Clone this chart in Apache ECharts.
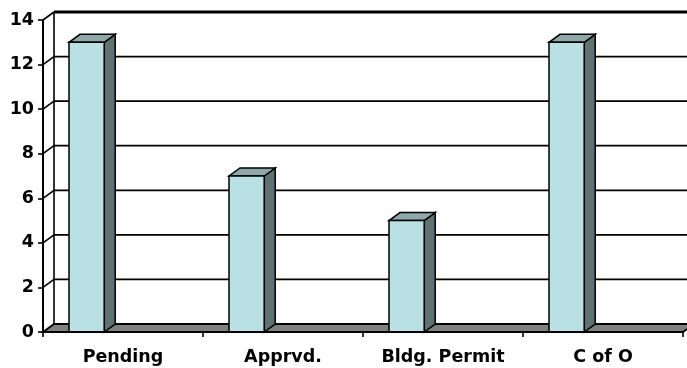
<!DOCTYPE html>
<html>
<head>
<meta charset="utf-8">
<script src="https://cdn.jsdelivr.net/npm/echarts@6/dist/echarts.min.js"></script>
<style>html,body{margin:0;padding:0;background:#fff}#c{width:687px;height:368px}</style>
</head>
<body>
<div id="c"></div>
<script>
var categories = ['Pending', 'Apprvd.', 'Bldg. Permit', 'C of O'];
var values = [13, 7, 5, 13];
var yTicks = [0, 2, 4, 6, 8, 10, 12, 14];

var DX = 11, DY = -8;
var FONT = 'DejaVu Sans';

var chart = echarts.init(document.getElementById('c'), null, {renderer: 'canvas'});

function wallItem(params, api) {
  var cs = params.coordSys;
  var v = api.value(0);
  var p = api.coord([0, v]);
  var y = p[1];
  var x0 = cs.x, x1 = cs.x + cs.width;
  var children = [];
  if (v === 0) {
    var yTop = api.coord([0, yTicks[yTicks.length - 1]])[1];
    children.push({
      type: 'line',
      shape: {x1: x0 + DX, y1: y + DY, x2: x0 + DX, y2: yTop + DY},
      style: {stroke: '#000', lineWidth: 1.6}
    });
    children.push({
      type: 'polygon',
      shape: {points: [[x0, y], [x1, y], [x1 + DX, y + DY], [x0 + DX, y + DY]]},
      style: {fill: '#808080', stroke: '#000', lineWidth: 1.8},
      z2: 5
    });
  } else {
    var top = v === yTicks[yTicks.length - 1];
    children.push({
      type: 'line',
      shape: {x1: x0 + DX, y1: y + DY, x2: x1 + DX + 20, y2: y + DY},
      style: {stroke: '#000', lineWidth: top ? 2.8 : 1.7}
    });
    children.push({
      type: 'line',
      shape: {x1: x0, y1: y, x2: x0 + DX, y2: y + DY},
      style: {stroke: '#000', lineWidth: 1.6}
    });
  }
  return {type: 'group', children: children};
}

function barItem(params, api) {
  var cat = api.value(0), val = api.value(1);
  var pb = api.coord([cat, 0]);
  var pt = api.coord([cat, val]);
  var band = api.size([1, 0])[0];
  var xl = pb[0] - band * 0.3375;
  var xr = xl + band * 0.22;
  var yb = pb[1], yt = pt[1];
  var st = {stroke: '#000', lineWidth: 1.5};
  return {
    type: 'group',
    children: [
      {type: 'polygon', shape: {points: [[xr, yb], [xr + DX, yb + DY], [xr + DX, yt + DY], [xr, yt]]},
        style: Object.assign({fill: '#5E7274'}, st)},
      {type: 'polygon', shape: {points: [[xl, yt], [xr, yt], [xr + DX, yt + DY], [xl + DX, yt + DY]]},
        style: Object.assign({fill: '#8FA9AB'}, st)},
      {type: 'polygon', shape: {points: [[xl, yb], [xr, yb], [xr, yt], [xl, yt]]},
        style: Object.assign({fill: '#B9E0E3'}, st)}
    ]
  };
}

chart.setOption({
  animation: false,
  backgroundColor: '#fff',
  grid: {left: 43, right: 4, top: 20, bottom: 36, containLabel: false},
  xAxis: {
    type: 'category',
    data: categories,
    boundaryGap: true,
    axisLine: {show: true, lineStyle: {color: '#000', width: 2}},
    axisTick: {show: true, length: 5, lineStyle: {color: '#000', width: 1.6}},
    axisLabel: {color: '#000', fontFamily: FONT, fontWeight: 'bold', fontSize: 17.5, margin: 16},
    splitLine: {show: false},
    z: 10
  },
  yAxis: {
    type: 'value',
    min: 0, max: 14, interval: 2,
    axisLine: {show: true, lineStyle: {color: '#000', width: 2}},
    axisTick: {show: true, length: 5, lineStyle: {color: '#000', width: 1.6}},
    axisLabel: {color: '#000', fontFamily: FONT, fontWeight: 'bold', fontSize: 17.5, margin: 9},
    splitLine: {show: false},
    z: 10
  },
  series: [
    {
      type: 'custom',
      renderItem: wallItem,
      data: yTicks.map(function (t) { return [t]; }),
      encode: {y: 0},
      silent: true,
      z: 1
    },
    {
      type: 'custom',
      renderItem: barItem,
      data: values.map(function (v, i) { return [i, v]; }),
      encode: {x: 0, y: 1},
      silent: true,
      z: 3
    }
  ]
});
</script>
</body>
</html>
